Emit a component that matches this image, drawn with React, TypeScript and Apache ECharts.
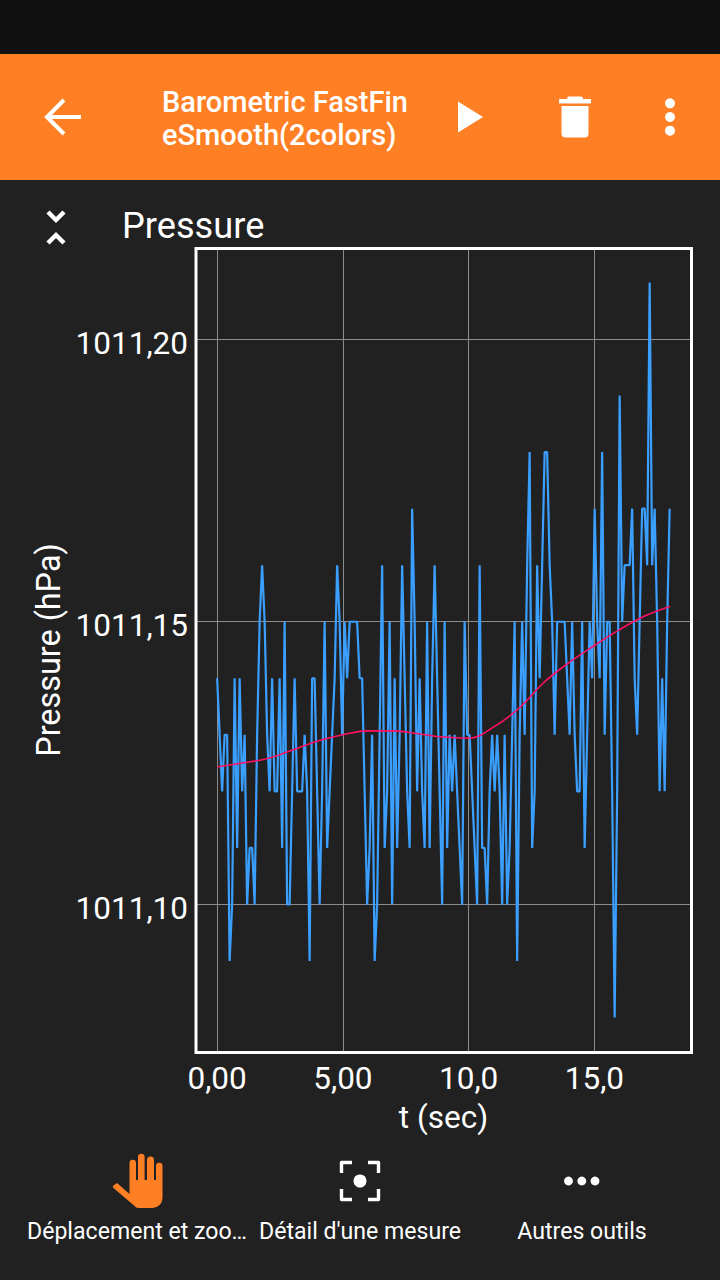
import React, { useEffect, useRef } from "react";
import * as echarts from "echarts";

const pressureBase = 1011;
const pressureHundredths = [
  14,13,12,13,13,9,10,14,11,14,12,13,10,11,11,10,13,15,16,15,13,12,14,12,12,14,11,15,10,10,
  12,14,12,12,12,13,12,9,14,14,12,10,12,15,11,12,13,14,16,15,13,15,14,15,15,15,15,14,14,12,
  10,11,13,9,10,13,16,11,12,15,10,14,11,13,16,14,12,11,17,15,12,14,12,11,15,11,14,16,14,12,
  10,15,11,13,12,13,12,11,10,15,13,13,12,11,10,16,11,11,10,12,13,12,13,12,10,13,10,11,13,15,
  9,13,15,13,16,18,11,12,16,14,16,18,18,16,15,13,15,15,15,15,14,13,15,13,12,12,15,11,13,15,
  14,17,15,14,18,13,15,15,12,8,12,19,15,16,16,16,17,14,13,15,17,17,16,21,16,17,15,12,14,12,
  15,17,
];
const sampleStep = 0.0994;
const smoothTimes = [0,1,2,3,4,5,6,7,8,9,10,11,12,13,14,15,16,17,18];
const smoothHundredths = [12.43,12.5,12.58,12.73,12.89,13,13.07,13.07,13.02,12.96,12.94,13.14,13.47,13.93,14.28,14.58,14.86,15.1,15.27];
const xTickValues = [0, 5, 10, 15];
const xTickLabels = ["0,00", "5,00", "10,0", "15,0"];
const yTickValues = [1011.1, 1011.15, 1011.2];
const yTickLabels = ["1011,10", "1011,15", "1011,20"];
const appTitleLines = ["Barometric FastFin", "eSmooth(2colors)"];
const toolbarLabels = ["Déplacement et zoo…", "Détail d'une mesure", "Autres outils"];

const FONT = "Roboto";
const WHITE = "#ffffff";
const ORANGE = "#ff7f24";
const HAND =
  "M129.5 1194V1163a3.2 3.2 0 0 1 6.5 0V1180H138V1157a3.3 3.3 0 0 1 6.6 0V1180H147V1160a3.5 3.5 0 0 1 7 0V1180H156V1166a3.2 3.2 0 0 1 6.5 0V1198a10 10 0 0 1 -10 10H139a6 6 0 0 1 -5 -2.5L113.5 1188a1.5 1.5 0 0 1 0 -2.5L117 1183Z";

const bracket = (pts: number[][]) => ({
  type: "polyline",
  shape: { points: pts },
  style: { stroke: WHITE, lineWidth: 3.4, fill: "none", lineJoin: "round" },
});
const dot = (x: number, y: number, r: number, fill = WHITE) => ({
  type: "circle",
  shape: { cx: x, cy: y, r },
  style: { fill },
});
const label = (text: string, x: number, y: number, size: number, align = "left", weight = 400) => ({
  type: "text",
  x,
  y,
  style: { text, fill: WHITE, font: `${weight} ${size}px ${FONT}`, align, verticalAlign: "middle" },
});

export default function App() {
  const ref = useRef<HTMLDivElement>(null);
  useEffect(() => {
    document.body.style.margin = "0";
    echarts.graphic.registerShape("hand", echarts.graphic.extendPath(HAND, {}));
    const chart = echarts.init(ref.current!, undefined, { renderer: "svg" });
    const lookup = (vals: number[], labels: string[]) => (v: number) => {
      const i = vals.findIndex((t) => Math.abs(t - v) < 1e-6);
      return i >= 0 ? labels[i] : "";
    };
    chart.setOption({
      animation: false,
      backgroundColor: "#212121",
      grid: { show: false, left: 196, right: 29, top: 248, height: 804, containLabel: false },
      xAxis: {
        type: "value",
        min: -0.84,
        max: 18.84,
        splitNumber: 4,
        showMinLabel: false,
        showMaxLabel: false,
        name: "t (sec)",
        nameLocation: "middle",
        nameGap: 49,
        nameTextStyle: { color: WHITE, fontFamily: FONT, fontSize: 31.5 },
        axisLine: { show: false },
        axisTick: { show: false },
        axisLabel: { color: WHITE, fontFamily: FONT, fontSize: 31.5, margin: 10, formatter: lookup(xTickValues, xTickLabels) },
        splitLine: { show: true, lineStyle: { color: "#8c8c8c", width: 1 } },
      },
      yAxis: {
        type: "value",
        min: 1011.0739,
        max: 1011.2161,
        splitNumber: 3,
        showMinLabel: false,
        showMaxLabel: false,
        name: "Pressure (hPa)",
        nameLocation: "middle",
        nameGap: 131,
        nameRotate: 90,
        nameTextStyle: { color: WHITE, fontFamily: FONT, fontSize: 32.4 },
        axisLine: { show: false },
        axisTick: { show: false },
        axisLabel: { color: WHITE, fontFamily: FONT, fontSize: 31.5, margin: 8, verticalAlign: "top", lineHeight: 8, formatter: lookup(yTickValues, yTickLabels) },
        splitLine: { show: true, lineStyle: { color: "#8c8c8c", width: 1 } },
      },
      series: [
        {
          type: "line",
          showSymbol: false,
          data: pressureHundredths.map((h, i) => [i * sampleStep, pressureBase + h / 100]),
          lineStyle: { color: "#3a9fff", width: 2.2 },
          silent: true,
        },
        {
          type: "line",
          showSymbol: false,
          smooth: 0.4,
          data: smoothTimes.map((t, i) => [t, pressureBase + smoothHundredths[i] / 100]),
          lineStyle: { color: "#ff1064", width: 1.6 },
          silent: true,
        },
      ],
      graphic: [
        { type: "rect", shape: { x: 0, y: 0, width: 720, height: 54 }, style: { fill: "#111111" } },
        { type: "rect", shape: { x: 0, y: 54, width: 720, height: 126 }, style: { fill: ORANGE } },
        // plot frame, above the split lines that fall on the plot's edges
        { type: "rect", z: 50, shape: { x: 196, y: 248.5, width: 495.5, height: 804 }, style: { fill: "none", stroke: WHITE, lineWidth: 3 } },
        // back arrow
        { type: "polyline", shape: { points: [[64, 100], [47, 117], [64, 134]] }, style: { stroke: WHITE, lineWidth: 4, fill: "none" } },
        { type: "line", shape: { x1: 48, y1: 117, x2: 81, y2: 117 }, style: { stroke: WHITE, lineWidth: 4 } },
        label(appTitleLines[0], 162, 102, 29, "left", 500),
        label(appTitleLines[1], 162, 135, 29, "left", 500),
        // play
        { type: "polygon", shape: { points: [[458, 101.5], [483, 117], [458, 132.5]] }, style: { fill: WHITE } },
        // trash
        { type: "rect", shape: { x: 567, y: 96.5, width: 16, height: 4, r: 2 }, style: { fill: WHITE } },
        { type: "rect", shape: { x: 559, y: 99, width: 32, height: 4.5 }, style: { fill: WHITE } },
        { type: "rect", shape: { x: 561.5, y: 106, width: 27, height: 31.5, r: [0, 0, 4, 4] }, style: { fill: WHITE } },
        // overflow
        dot(670, 103.3, 5), dot(670, 117, 5), dot(670, 130.7, 5),
        // collapse chevrons
        { type: "polyline", shape: { points: [[48, 212], [56, 220], [64, 212]] }, style: { stroke: WHITE, lineWidth: 4.4, fill: "none" } },
        { type: "polyline", shape: { points: [[48, 243], [56, 235], [64, 243]] }, style: { stroke: WHITE, lineWidth: 4.4, fill: "none" } },
        label("Pressure", 122, 225, 36.2),
        // toolbar
        { type: "hand", x: 0, y: 0, style: { fill: ORANGE } },
        bracket([[341.5, 1173], [341.5, 1162.5], [352, 1162.5]]),
        bracket([[368, 1162.5], [378.5, 1162.5], [378.5, 1173]]),
        bracket([[341.5, 1189], [341.5, 1199.5], [352, 1199.5]]),
        bracket([[368, 1199.5], [378.5, 1199.5], [378.5, 1189]]),
        dot(360, 1181, 6.5),
        dot(568.5, 1181, 4.4), dot(581.8, 1181, 4.4), dot(595, 1181, 4.4),
        label(toolbarLabels[0], 137, 1231, 23.1, "center"),
        label(toolbarLabels[1], 360, 1231, 23.1, "center"),
        label(toolbarLabels[2], 582, 1231, 23.1, "center"),
      ],
    });
    return () => chart.dispose();
  }, []);
  return <div ref={ref} style={{ position: "fixed", left: 0, top: 0, width: 720, height: 1280 }} />;
}
